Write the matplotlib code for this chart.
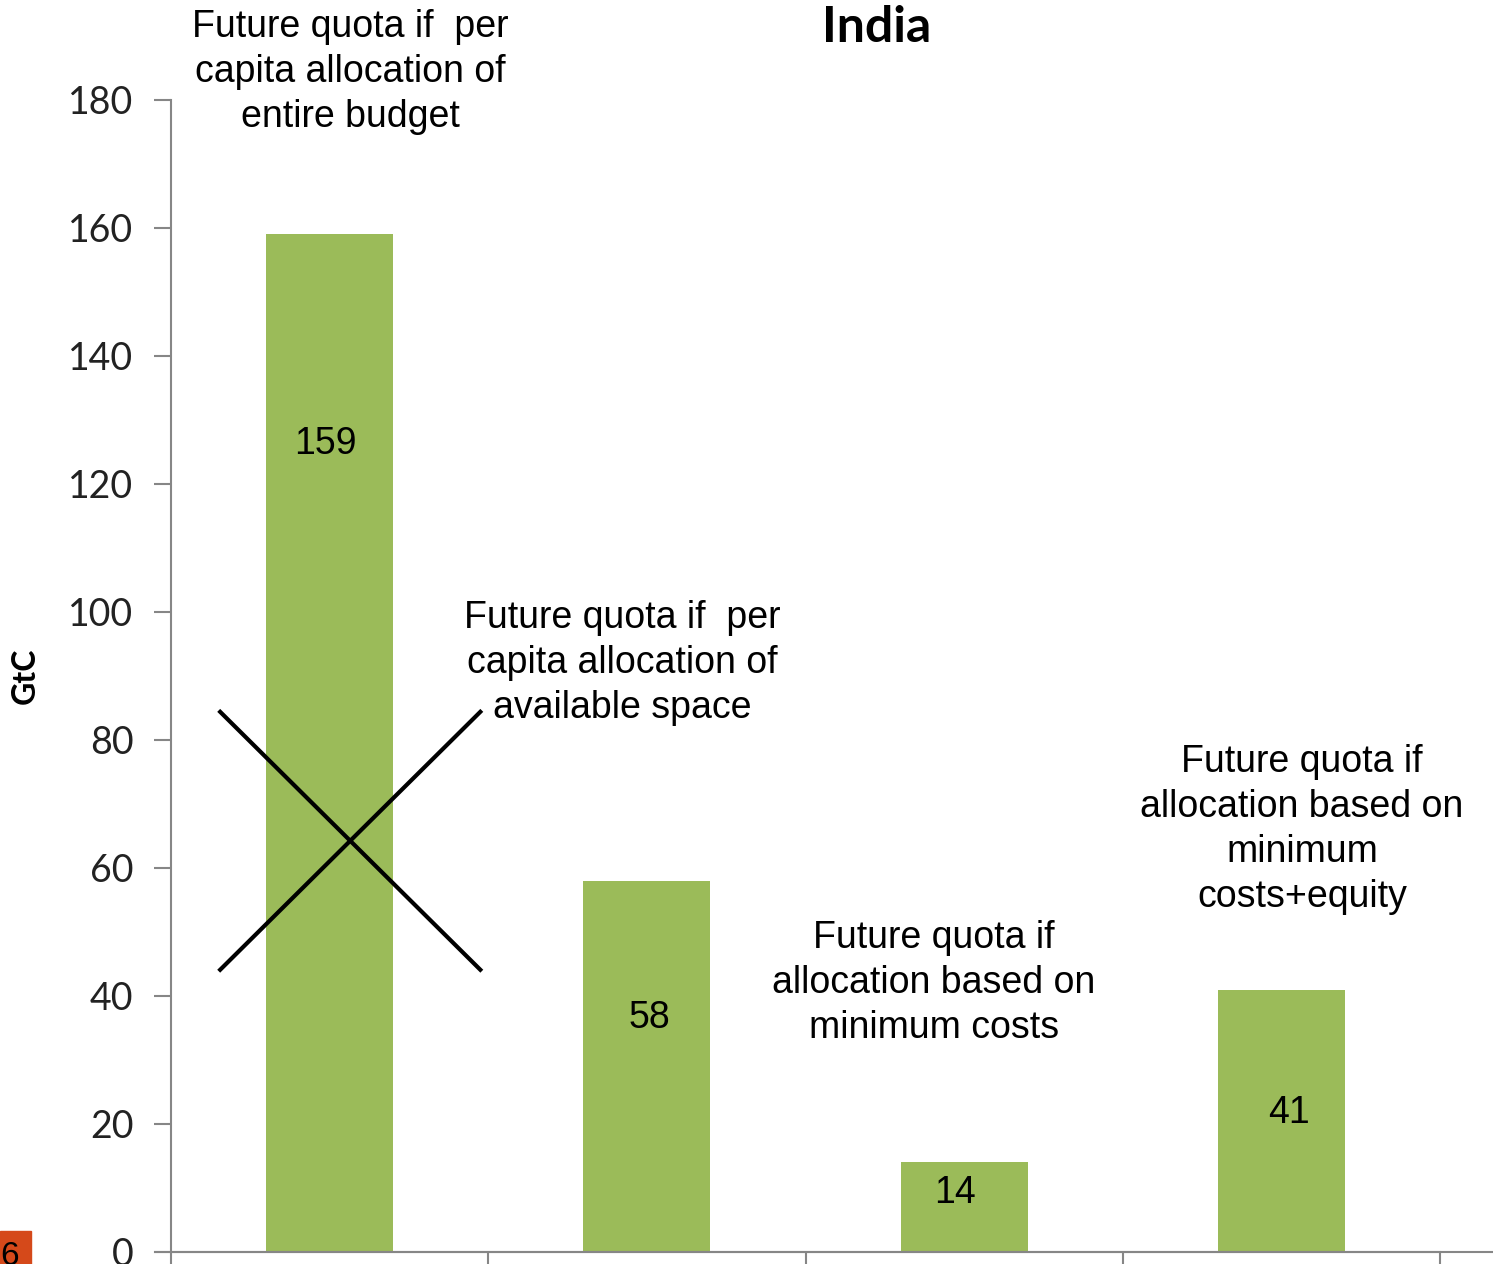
import matplotlib.pyplot as plt
from matplotlib.patches import Rectangle

# data
categories = ['per capita - entire budget', 'per capita - available space',
              'minimum costs', 'minimum costs+equity']
values = [159, 58, 14, 41]
bar_labels = ['159', '58', '14', '41']
label_x = [-0.014, 1.008, 1.970, 3.024]
label_y = [126.2, 36.6, 9.2, 21.7]
notes = ['Future quota if  per\ncapita allocation of\nentire budget',
         'Future quota if  per\ncapita allocation of\navailable space',
         'Future quota if\nallocation based on\nminimum costs',
         'Future quota if\nallocation based on\nminimum\ncosts+equity']
note_x = [0.065, 0.923, 1.904, 3.065]
note_y = [184.4, 92.0, 42.0, 66.0]
yticks = [0, 20, 40, 60, 80, 100, 120, 140, 160, 180]

green = '#9BBB59'
gray = '#868686'

fig = plt.figure(figsize=(14.93, 12.64), dpi=100)
ax = fig.add_axes([171 / 1493, 12 / 1264, (1440 - 171) / 1493, (1252 - 100) / 1264])

x = list(range(len(values)))
ax.bar(x, values, width=0.4, color=green, zorder=2)

ax.set_xlim(-0.5, 3.5)
ax.set_ylim(0, 180)
ax.set_yticks(yticks)
ax.set_yticklabels([str(v) for v in yticks], fontsize=27, family='Lato', color='#222222')
ax.set_xticks([-0.5, 0.5, 1.5, 2.5, 3.5])
ax.set_xticklabels([])
ax.tick_params(axis='y', length=12, width=1.5, color=gray, pad=15)
ax.tick_params(axis='x', length=12, width=1.5, color=gray, direction='out')
for s in ['top', 'right']:
    ax.spines[s].set_visible(False)
for s in ['left', 'bottom']:
    ax.spines[s].set_color(gray)
    ax.spines[s].set_linewidth(1.5)
# bottom line runs on a bit past both ends
ax.plot([-0.55, 3.67], [0, 0], color=gray, lw=1.5, clip_on=False, zorder=3)

for lx, lab, yy in zip(label_x, bar_labels, label_y):
    ax.text(lx, yy, lab, ha='center', va='center', fontsize=27,
            family='Liberation Sans', zorder=4)

for t, xx, yy in zip(notes, note_x, note_y):
    ax.text(xx, yy, t, ha='center', va='center', fontsize=27,
            family='Liberation Sans', linespacing=1.33, clip_on=False)

# the crossed-out first bar
ax.plot([-0.345, 0.475], [84.4, 44.1], color='black', lw=3, zorder=5)
ax.plot([-0.345, 0.475], [44.1, 84.4], color='black', lw=3, zorder=5)

fig.text(877 / 1493, 1 - 27 / 1264, 'India', ha='center', va='center',
         fontsize=36, fontweight='bold', family='Lato')
fig.text(25 / 1493, 1 - 676 / 1264, 'GtC', ha='center', va='center', rotation=90,
         fontsize=23, fontweight='bold', family='Lato')

# slide number box
fig.patches.append(Rectangle((0, 0), 31 / 1493, 33 / 1264, transform=fig.transFigure,
                             color='#D5491A', zorder=1))
fig.text(0.5 / 1493, -8 / 1264, '6', ha='left', va='bottom', fontsize=24,
         family='Liberation Sans')

fig.savefig('out.png', dpi=100)
